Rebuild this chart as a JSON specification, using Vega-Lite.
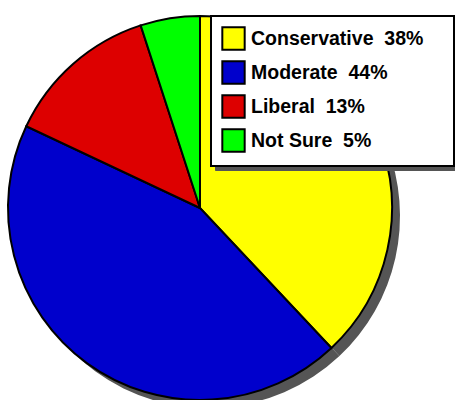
{
  "$schema": "https://vega.github.io/schema/vega-lite/v6.json",
  "width": 384,
  "height": 384,
  "padding": {"left": 4, "top": 12, "right": 0, "bottom": 0},
  "background": "white",
  "config": {
    "view": {"stroke": null},
    "legend": {
      "orient": "none",
      "titleOrient": "right",
      "titleFontSize": 10,
      "titlePadding": 21,
      "padding": 10,
      "symbolType": "square",
      "symbolSize": 500,
      "symbolStrokeWidth": 2,
      "symbolOpacity": 1,
      "labelFont": "Liberation Sans",
      "labelFontWeight": "bold",
      "labelFontSize": 19.5,
      "labelLimit": 400,
      "rowPadding": 3,
      "labelOffset": 5
    }
  },
  "data": {
    "values": [
      {"idx": 1, "category": "Conservative\u00a0 38%", "shadow": "Conservative\u00a0 38% ", "pct": 38},
      {"idx": 2, "category": "Moderate\u00a0 44%", "shadow": "Moderate\u00a0 44% ", "pct": 44},
      {"idx": 3, "category": "Liberal\u00a0 13%", "shadow": "Liberal\u00a0 13% ", "pct": 13},
      {"idx": 4, "category": "Not Sure\u00a0 5%", "shadow": "Not Sure\u00a0 5% ", "pct": 5}
    ]
  },
  "layer": [
    {
      "mark": {"type": "arc", "outerRadius": 192, "xOffset": 8, "yOffset": 8},
      "encoding": {
        "theta": {"field": "pct", "type": "quantitative", "stack": true},
        "order": {"field": "idx", "type": "quantitative"},
        "fill": {
          "field": "shadow",
          "type": "nominal",
          "sort": null,
          "scale": {"range": ["#555555", "#555555", "#555555", "#555555"]},
          "legend": {
            "title": "\u00a0",
            "titleColor": "#555555",
            "legendX": 207,
            "legendY": 4,
            "zindex": 0,
            "strokeColor": "#555555",
            "fillColor": "#555555",
            "symbolStrokeColor": "#555555",
            "labelColor": "#555555"
          }
        }
      }
    },
    {
      "mark": {"type": "arc", "outerRadius": 192, "stroke": "black", "strokeWidth": 2},
      "encoding": {
        "theta": {"field": "pct", "type": "quantitative", "stack": true},
        "order": {"field": "idx", "type": "quantitative"},
        "color": {
          "field": "category",
          "type": "nominal",
          "sort": null,
          "scale": {"range": ["#FFFF00", "#0000CC", "#DD0000", "#00FF00"]},
          "legend": {
            "title": "\u00a0",
            "titleColor": "white",
            "legendX": 203,
            "legendY": 0,
            "zindex": 1,
            "strokeColor": "black",
            "fillColor": "white",
            "symbolStrokeColor": "black",
            "labelColor": "black",
            "encode": {"legend": {"update": {"strokeWidth": {"value": 2}}}}
          }
        }
      }
    }
  ]
}
